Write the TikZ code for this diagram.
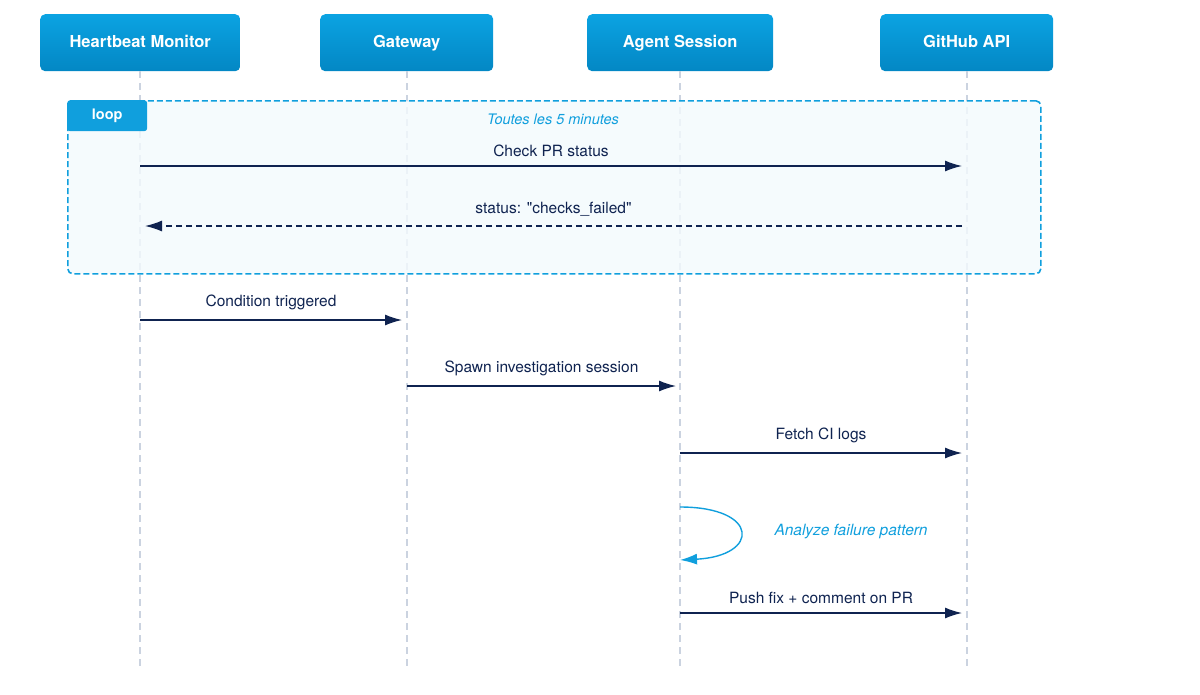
\documentclass[tikz,border=0pt]{standalone}
\usepackage{fontspec}
\setmainfont{TeX Gyre Heros}
\usetikzlibrary{arrows.meta}
\definecolor{hdtop}{HTML}{0BA3E2}
\definecolor{hdbot}{HTML}{0387C4}
\definecolor{navy}{HTML}{0F2350}
\definecolor{loopblue}{HTML}{109FDD}
\definecolor{lifegray}{HTML}{CBD3E0}
\begin{document}
\begin{tikzpicture}[x=1pt,y=-1pt,font=\fontsize{15.5}{18}\selectfont]
    \tikzstyle{actor}=[rectangle,rounded corners=5pt,top color=hdtop,bottom color=hdbot,draw=none,text=white,font=\fontsize{16.5}{19}\selectfont\bfseries,minimum height=57pt,text height=12pt,text depth=3pt,anchor=north west]
    \tikzstyle{life}=[draw=lifegray,line width=1.3pt,dash pattern=on 7pt off 5pt]
    \tikzstyle{msg}=[draw=navy,line width=1.4pt,-{Latex[length=17pt,width=11pt]}]
    \tikzstyle{lbl}=[text=navy,inner sep=0pt]
    \useasboundingbox (0,0) rectangle (1200,694);
    % participants
    \node [actor,minimum width=200pt] (hm) at (40,14) {Heartbeat Monitor};
    \node [actor,minimum width=173pt] (gw) at (320,14) {Gateway};
    \node [actor,minimum width=186pt] (ag) at (587,14) {Agent Session};
    \node [actor,minimum width=173pt] (gh) at (880,14) {GitHub API};
    % lifelines
    \coordinate (hmend) at (140,668);
    \coordinate (gwend) at (407,668);
    \coordinate (agend) at (680,668);
    \coordinate (ghend) at (967,668);
    \draw [life] (hm.south -| hmend) -- (hmend);
    \draw [life] (gw.south -| gwend) -- (gwend);
    \draw [life] (ag.south -| agend) -- (agend);
    \draw [life] (gh.south -| ghend) -- (ghend);
    % loop frame
    \node [draw=loopblue,fill=loopblue!5,fill opacity=0.8,line width=1.6pt,dash pattern=on 6pt off 3pt,rounded corners=5pt,minimum width=973pt,minimum height=173pt,anchor=north west] (frame) at (67,100) {};
    \node [fill=loopblue,text=white,rounded corners=3pt,minimum width=80pt,minimum height=31pt,anchor=north west,font=\fontsize{14.5}{16}\selectfont\bfseries] (tag) at (67,100) {loop};
    \node [text=loopblue,font=\fontsize{14.5}{16}\selectfont\itshape] (cond) at (553,119) {Toutes les 5 minutes};
    % messages
    \coordinate (m1a) at (140,166); \coordinate (m1b) at (962,166);
    \draw [msg] (m1a) -- (m1b) node [lbl,midway,above=9pt] {Check PR status};
    \coordinate (m2a) at (962,226); \coordinate (m2b) at (145,226);
    \draw [msg,dash pattern=on 6pt off 4pt] (m2a) -- (m2b) node [lbl,midway,above=9pt] {status: \textquotedbl checks\_failed\textquotedbl};
    \coordinate (m3a) at (140,320); \coordinate (m3b) at (402,320);
    \draw [msg] (m3a) -- (m3b) node [lbl,midway,above=9pt] {Condition triggered};
    \coordinate (m4a) at (407,386); \coordinate (m4b) at (676,386);
    \draw [msg] (m4a) -- (m4b) node [lbl,midway,above=9pt] {Spawn investigation session};
    \coordinate (m5a) at (680,453); \coordinate (m5b) at (962,453);
    \draw [msg] (m5a) -- (m5b) node [lbl,midway,above=9pt] {Fetch CI logs};
    \coordinate (s1) at (680,507); \coordinate (s2) at (680,560);
    \draw [draw=loopblue,line width=1.4pt,-{Latex[length=17pt,width=11pt]}] (s1) .. controls (760,507) and (760,556) .. (s2);
    \node [text=loopblue,font=\fontsize{15.5}{18}\selectfont\itshape] (self) at (851,532) {Analyze failure pattern};
    \coordinate (m6a) at (680,613); \coordinate (m6b) at (962,613);
    \draw [msg] (m6a) -- (m6b) node [lbl,midway,above=9pt] {Push fix + comment on PR};
  \end{tikzpicture}
\end{document}
